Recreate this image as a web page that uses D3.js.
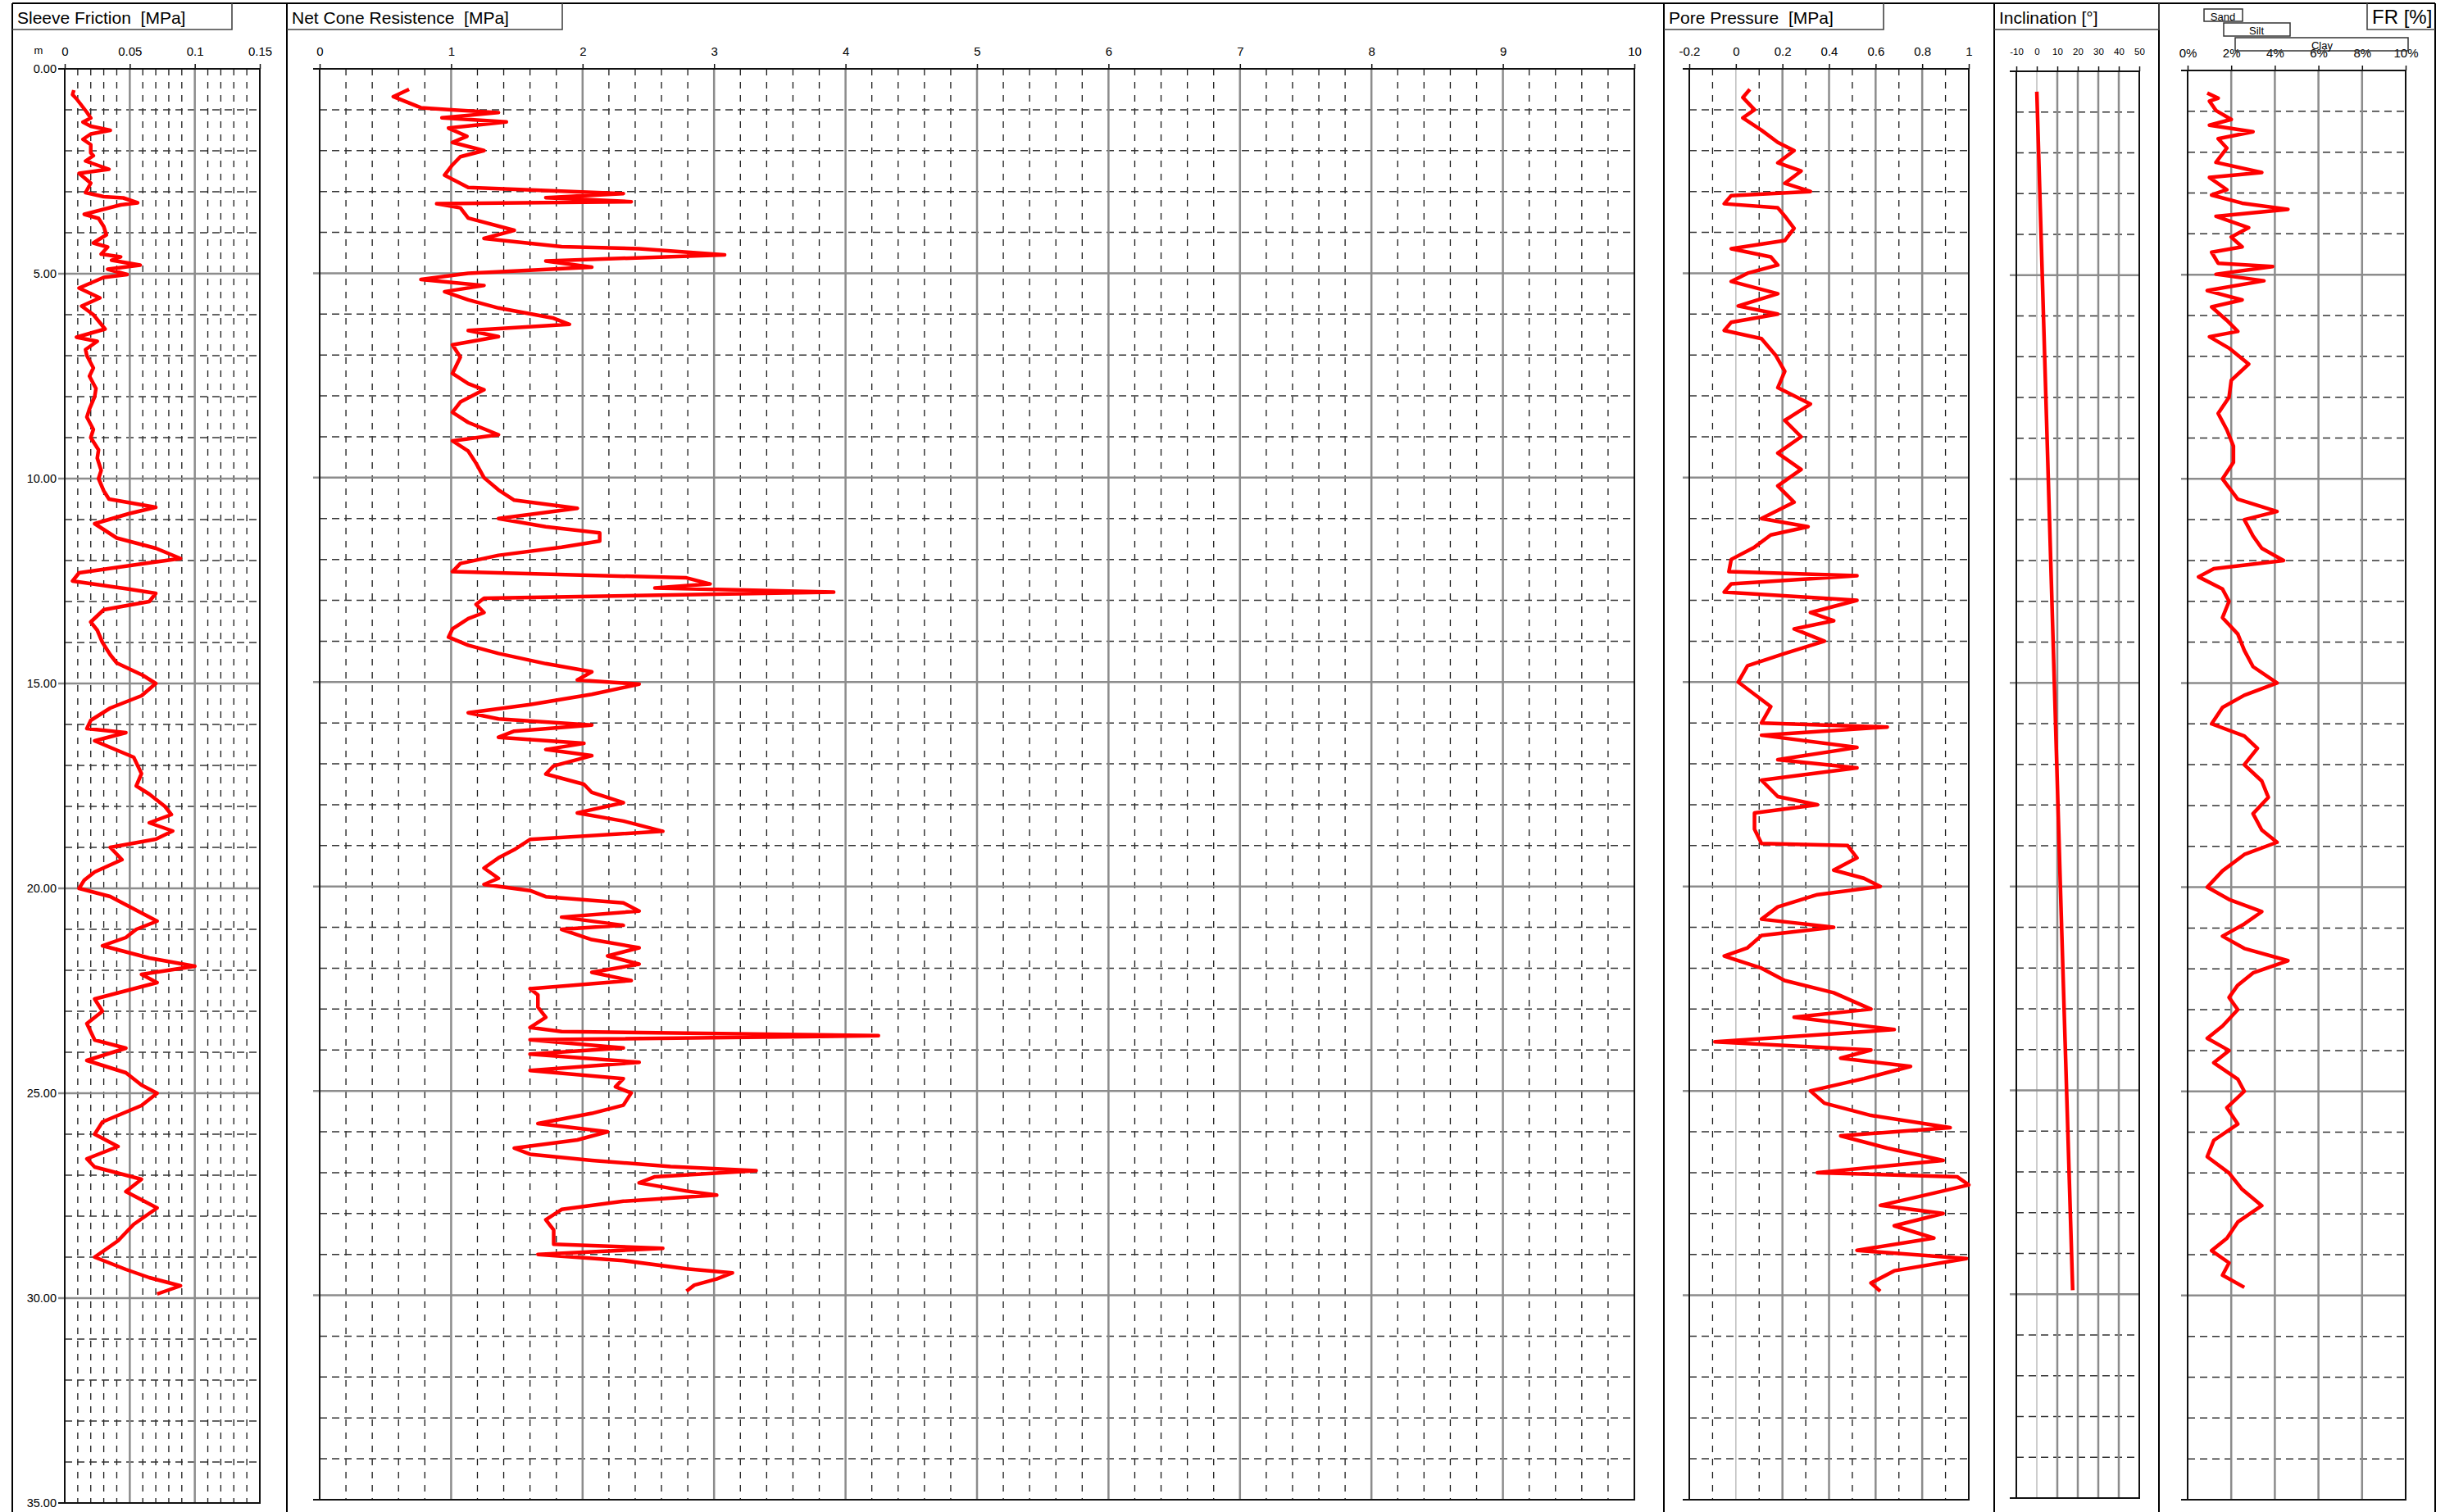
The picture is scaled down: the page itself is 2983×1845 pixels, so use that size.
<!DOCTYPE html>
<html>
<head>
<meta charset="utf-8">
<script src="https://cdn.jsdelivr.net/npm/d3@7/dist/d3.min.js"></script>
<style>
  body { margin: 0; background: #fff; }
  svg { display: block; font-family: "Liberation Sans", Arial, sans-serif; }
  text { white-space: pre; }
</style>
</head>
<body>
<svg id="chart" width="2983" height="1845"></svg>
<script>
// depth in m, value in panel units
const depthLabels = [0, 5, 10, 15, 20, 25, 30, 35];

const sleeveTicks = [0, 0.05, 0.1, 0.15];
const coneTicks = [0, 1, 2, 3, 4, 5, 6, 7, 8, 9, 10];
const poreTicks = [-0.2, 0, 0.2, 0.4, 0.6, 0.8, 1];
const inclTicks = [-10, 0, 10, 20, 30, 40, 50];
const frTicks = [0, 2, 4, 6, 8, 10];

const sleeveFriction = [
  [0.52,0.007],[0.63,0.006],[0.73,0.009],[1.06,0.017],[1.2,0.02],[1.3,0.014],[1.4,0.02],[1.5,0.035],[1.59,0.02],
  [1.72,0.014],[1.85,0.02],[2.05,0.02],[2.12,0.022],[2.25,0.016],[2.45,0.034],[2.55,0.011],[2.79,0.02],[3.02,0.016],
  [3.12,0.03],[3.15,0.045],[3.27,0.056],[3.32,0.043],[3.55,0.015],[3.65,0.026],[3.85,0.03],[4.05,0.032],[4.25,0.022],
  [4.35,0.033],[4.52,0.028],[4.59,0.043],[4.67,0.036],[4.79,0.058],[4.89,0.033],[5.02,0.048],[5.09,0.03],[5.35,0.011],
  [5.59,0.027],[5.79,0.013],[6.0,0.022],[6.35,0.031],[6.55,0.009],[6.65,0.025],[6.85,0.016],
  [7.0,0.017],[7.3,0.022],[7.5,0.019],[7.8,0.024],[8.0,0.023],[8.3,0.019],[8.5,0.017],[8.8,0.022],[9.0,0.02],[9.3,0.026],
  [9.5,0.025],[9.8,0.028],[10.0,0.026],[10.3,0.03],[10.5,0.034],[10.7,0.07],[10.85,0.05],[11.1,0.023],[11.45,0.04],
  [11.7,0.07],[11.95,0.089],[12.1,0.055],[12.3,0.011],[12.5,0.006],[12.7,0.05],[12.8,0.07],[13.0,0.065],[13.2,0.03],
  [13.5,0.02],[13.7,0.025],[14.0,0.029],[14.3,0.035],[14.5,0.04],[14.8,0.06],[15.0,0.07],[15.3,0.059],[15.6,0.035],
  [15.9,0.02],[16.1,0.017],[16.2,0.047],[16.4,0.023],[16.8,0.053],[17.2,0.059],[17.5,0.055],[17.7,0.065],[18.0,0.077],
  [18.2,0.082],[18.4,0.065],[18.6,0.083],[18.8,0.07],[19.0,0.035],[19.3,0.044],[19.6,0.023],[19.8,0.015],[20.0,0.011],
  [20.2,0.035],[20.5,0.053],[20.8,0.071],[21.0,0.055],[21.2,0.047],[21.4,0.029],[21.7,0.065],[21.9,0.1],[22.1,0.059],
  [22.3,0.071],[22.5,0.047],[22.7,0.023],[23.0,0.029],[23.3,0.017],[23.7,0.023],[23.9,0.047],[24.2,0.017],[24.5,0.047],
  [24.8,0.059],[25.0,0.071],[25.3,0.059],[25.7,0.029],[26.0,0.023],[26.3,0.041],[26.6,0.017],[26.8,0.023],[27.1,0.059],
  [27.4,0.047],[27.8,0.071],[28.2,0.053],[28.6,0.041],[29.0,0.023],[29.3,0.047],[29.5,0.065],[29.7,0.089],[29.9,0.071]
];

const netCone = [
  [0.5,0.68],[0.68,0.56],[0.95,0.77],[1.0,1.0],[1.07,1.36],[1.2,0.93],[1.3,1.42],[1.45,0.98],[1.65,1.12],[1.8,1.01],
  [2.0,1.25],[2.15,1.07],[2.35,1.01],[2.6,0.95],[2.9,1.13],[3.05,2.31],[3.15,1.72],[3.25,2.37],[3.3,0.89],[3.4,1.07],
  [3.65,1.13],[3.95,1.48],[4.15,1.25],[4.35,1.84],[4.4,2.43],[4.55,3.08],[4.7,1.72],[4.85,2.07],[5.0,1.13],[5.15,0.77],
  [5.3,1.25],[5.45,0.95],[5.65,1.13],[5.85,1.36],[6.1,1.78],[6.25,1.9],[6.4,1.13],[6.55,1.36],[6.75,1.01],[7.05,1.07],
  [7.45,1.01],[7.7,1.13],[7.85,1.25],[8.15,1.07],[8.4,1.01],[8.65,1.13],[8.95,1.36],[9.1,1.01],[9.35,1.13],[9.65,1.19],
  [10.0,1.25],[10.3,1.36],[10.55,1.48],[10.75,1.96],[11.0,1.36],[11.2,1.72],[11.35,2.13],[11.55,2.13],[11.7,1.84],
  [11.9,1.36],[12.1,1.07],[12.3,1.01],[12.45,2.79],[12.6,2.97],[12.7,2.55],[12.8,3.91],[12.95,1.25],[13.1,1.19],
  [13.3,1.25],[13.45,1.13],[13.7,1.01],[13.9,0.98],[14.1,1.13],[14.3,1.36],[14.55,1.72],[14.75,2.07],[14.95,1.96],
  [15.05,2.43],[15.3,2.07],[15.55,1.6],[15.75,1.13],[15.9,1.36],[16.05,2.07],[16.2,1.48],[16.35,1.36],[16.5,2.01],
  [16.65,1.72],[16.8,2.07],[17.05,1.78],[17.25,1.72],[17.5,2.01],[17.7,2.07],[17.95,2.31],[18.2,1.96],[18.4,2.31],
  [18.65,2.61],[18.85,1.6],[19.1,1.48],[19.3,1.36],[19.55,1.25],[19.8,1.36],[19.95,1.25],[20.1,1.6],[20.25,1.72],
  [20.4,2.31],[20.6,2.43],[20.75,1.84],[20.95,2.31],[21.05,1.84],[21.3,2.07],[21.5,2.43],[21.7,2.19],[21.9,2.43],
  [22.1,2.07],[22.3,2.37],[22.5,1.6],[22.65,1.66],[22.95,1.66],[23.2,1.72],[23.45,1.6],[23.55,1.84],[23.65,4.25],
  [23.75,1.6],[23.95,2.31],[24.1,1.6],[24.3,2.43],[24.5,1.6],[24.7,2.31],[24.9,2.25],[25.05,2.37],[25.35,2.31],
  [25.55,2.07],[25.8,1.66],[26.0,2.19],[26.2,1.96],[26.4,1.48],[26.55,1.6],[26.7,2.07],[26.85,2.67],[26.95,3.32],
  [27.1,2.55],[27.25,2.43],[27.45,2.79],[27.55,3.02],[27.7,2.31],[27.9,1.84],[28.15,1.72],[28.4,1.78],[28.65,1.78],
  [28.75,1.78],[28.85,2.61],[29.0,1.66],[29.15,2.31],[29.35,2.79],[29.45,3.14],[29.6,3.02],[29.75,2.85],[29.9,2.79]
];

const porePressure = [
  [0.5,0.06],[0.7,0.03],[1.0,0.08],[1.2,0.03],[1.5,0.11],[1.8,0.18],[2.0,0.25],[2.3,0.18],[2.5,0.28],[2.8,0.21],
  [3.0,0.32],[3.1,-0.02],[3.3,-0.05],[3.4,0.18],[3.6,0.21],[3.9,0.25],[4.2,0.21],[4.4,-0.02],[4.6,0.15],[4.8,0.18],
  [5.0,0.05],[5.2,-0.02],[5.5,0.18],[5.8,0.01],[6.0,0.18],[6.2,-0.02],[6.4,-0.05],[6.6,0.11],[7.0,0.17],[7.4,0.21],
  [7.8,0.18],[8.2,0.32],[8.6,0.21],[9.0,0.28],[9.4,0.18],[9.8,0.28],[10.2,0.18],[10.6,0.25],[11.0,0.11],[11.2,0.31],
  [11.4,0.15],[11.7,0.08],[12.0,-0.02],[12.3,-0.03],[12.4,0.52],[12.6,-0.02],[12.8,-0.05],[13.0,0.52],[13.3,0.32],
  [13.5,0.42],[13.7,0.25],[14.0,0.38],[14.3,0.21],[14.6,0.05],[15.0,0.01],[15.3,0.08],[15.6,0.15],[16.0,0.11],
  [16.1,0.65],[16.3,0.11],[16.6,0.52],[16.9,0.18],[17.1,0.52],[17.4,0.11],[17.8,0.18],[18.0,0.35],[18.2,0.08],
  [18.6,0.08],[18.95,0.11],[19.0,0.48],[19.3,0.52],[19.6,0.42],[19.8,0.55],[20.0,0.62],[20.2,0.35],[20.5,0.18],
  [20.8,0.11],[21.0,0.42],[21.2,0.11],[21.5,0.05],[21.7,-0.05],[22.0,0.11],[22.3,0.21],[22.6,0.42],[23.0,0.58],
  [23.2,0.25],[23.5,0.68],[23.8,-0.09],[24.0,0.58],[24.2,0.45],[24.4,0.75],[24.7,0.55],[25.0,0.32],[25.3,0.38],
  [25.6,0.58],[25.9,0.92],[26.1,0.45],[26.4,0.65],[26.7,0.89],[27.0,0.35],[27.1,0.95],[27.3,1.0],[27.5,0.85],
  [27.8,0.62],[28.0,0.89],[28.3,0.68],[28.6,0.85],[28.9,0.52],[29.1,0.99],[29.4,0.68],[29.7,0.58],[29.9,0.62]
];

const inclination = [[0.5,0],[10,5.6],[20,11.5],[29.9,17.5]];

const frictionRatio = [
  [0.55,0.9],[0.68,1.4],[0.75,1.0],[0.98,1.3],[1.2,2.0],[1.34,1.0],[1.5,3.0],[1.67,1.4],[1.9,1.8],[2.25,1.3],
  [2.5,3.4],[2.62,1.0],[2.92,1.8],[3.05,1.1],[3.25,2.5],[3.4,4.6],[3.57,1.3],[3.85,2.8],[4.08,2.0],[4.32,2.5],
  [4.45,1.1],[4.72,1.4],[4.8,3.9],[4.99,1.3],[5.15,3.5],[5.39,0.9],[5.62,2.5],[5.79,1.1],[6.12,1.8],[6.39,2.3],
  [6.52,1.0],[6.8,1.9],[7.19,2.8],[7.59,2.0],[8.0,1.9],[8.4,1.4],[8.8,1.8],[9.2,2.1],[9.6,2.1],[10.0,1.6],[10.5,2.3],
  [10.8,4.1],[11.0,2.6],[11.4,3.0],[11.7,3.4],[12.0,4.4],[12.2,1.2],[12.4,0.5],[12.7,1.6],[13.0,1.9],[13.4,1.6],
  [13.8,2.3],[14.2,2.6],[14.6,3.0],[15.0,4.1],[15.3,2.6],[15.6,1.6],[16.0,1.1],[16.3,2.6],[16.6,3.2],[17.0,2.6],
  [17.4,3.4],[17.8,3.7],[18.2,3.0],[18.6,3.4],[18.9,4.1],[19.2,2.6],[19.6,1.6],[20.0,0.9],[20.3,1.9],[20.6,3.4],
  [20.9,2.6],[21.2,1.6],[21.5,2.6],[21.8,4.6],[22.1,3.0],[22.4,2.3],[22.7,1.9],[23.0,2.3],[23.4,1.6],[23.7,0.9],
  [24.0,1.9],[24.3,1.2],[24.7,2.3],[25.0,2.6],[25.4,1.8],[25.8,2.3],[26.2,1.2],[26.6,0.9],[27.0,1.9],[27.4,2.5],
  [27.8,3.4],[28.2,2.3],[28.6,1.8],[28.9,1.1],[29.2,1.9],[29.5,1.6],[29.8,2.6]
];

const svg = d3.select('#chart');
const H = 1845;

// frame + panel separators
const frame = svg.append('g').attr('stroke', '#000').attr('stroke-width', 2);
frame.append('line').attr('x1', 15).attr('x2', 2971).attr('y1', 4).attr('y2', 4);
[15, 350, 2030, 2433, 2634, 2971].forEach(function(x) {
  frame.append('line').attr('x1', x).attr('x2', x).attr('y1', 4).attr('y2', H);
});

// title boxes
function titleBox(x0, x1, label, right) {
  var g = svg.append('g');
  g.append('path')
    .attr('d', right ? 'M' + x0 + ',4V36H' + x1 : 'M' + x0 + ',36H' + x1 + 'V4')
    .attr('fill', 'none').attr('stroke', '#444').attr('stroke-width', 1.6);
  g.append('text').attr('x', right ? x0 + 6 : x0 + 6).attr('y', 29)
    .attr('font-size', right ? 24 : 21).text(label);
}
titleBox(15, 283, 'Sleeve Friction  [MPa]');
titleBox(350, 686, 'Net Cone Resistence  [MPa]');
titleBox(2030, 2298, 'Pore Pressure  [MPa]');
titleBox(2433, 2634, 'Inclination [°]');
titleBox(2888, 2971, 'FR [%]', true);

function range(a, b, step) {
  var out = [];
  for (var i = Math.round(a / step); i * step <= b + 1e-9; i++) out.push(+(i * step).toFixed(6));
  return out;
}

function drawPanel(p) {
  var x = d3.scaleLinear().domain(p.domain).range([p.left, p.right]);
  var y = d3.scaleLinear().domain([0, 35]).range([p.top, p.bottom]);
  var g = svg.append('g');
  var isMajor = function(v) { return p.ticks.some(function(t) { return Math.abs(t - v) < 1e-6; }); };

  // minor vertical dashes
  if (p.minorStep) {
    range(p.domain[0], p.domain[1], p.minorStep).filter(function(v) { return !isMajor(v); }).forEach(function(v) {
      g.append('line').attr('x1', x(v)).attr('x2', x(v)).attr('y1', p.top).attr('y2', p.bottom)
        .attr('stroke', '#1a1a1a').attr('stroke-width', 1.3).attr('stroke-dasharray', '8,8');
    });
  }
  // horizontal 1 m dashes
  d3.range(1, 35).filter(function(d) { return d % 5; }).forEach(function(d) {
    g.append('line').attr('x1', p.left).attr('x2', p.right).attr('y1', y(d)).attr('y2', y(d))
      .attr('stroke', '#333').attr('stroke-width', 1.5).attr('stroke-dasharray', '9,6');
  });
  // major verticals
  p.ticks.slice(1, -1).forEach(function(v) {
    var zero = v === 0 && p.lightZero;
    g.append('line').attr('x1', x(v)).attr('x2', x(v)).attr('y1', p.top).attr('y2', p.bottom)
      .attr('stroke', zero ? '#bdbdbd' : '#8c8c8c').attr('stroke-width', zero ? 1.5 : 2.5);
  });
  // 5 m lines
  [5, 10, 15, 20, 25, 30].forEach(function(d) {
    g.append('line').attr('x1', p.left - 8).attr('x2', p.right).attr('y1', y(d)).attr('y2', y(d))
      .attr('stroke', '#8c8c8c').attr('stroke-width', 2.5);
  });
  // border
  g.append('rect').attr('x', p.left).attr('y', p.top).attr('width', p.right - p.left).attr('height', p.bottom - p.top)
    .attr('fill', 'none').attr('stroke', '#111').attr('stroke-width', 2);
  g.append('line').attr('x1', p.left - 8).attr('x2', p.left).attr('y1', p.top).attr('y2', p.top).attr('stroke', '#111').attr('stroke-width', 2);
  g.append('line').attr('x1', p.left - 8).attr('x2', p.left).attr('y1', p.bottom).attr('y2', p.bottom).attr('stroke', '#111').attr('stroke-width', 2);

  // top axis
  var axis = d3.axisTop(x).tickValues(p.ticks).tickSize(6).tickPadding(p.pad || 10).tickFormat(p.format);
  var ax = g.append('g').attr('transform', 'translate(0,' + p.top + ')').call(axis);
  ax.select('.domain').remove();
  ax.selectAll('line').attr('stroke', '#111').attr('stroke-width', 1.5);
  ax.selectAll('text').attr('font-size', p.fontSize || 15).attr('fill', '#000')
    .attr('font-family', '"Liberation Sans", Arial, sans-serif');

  // curve
  var line = d3.line().x(function(d) { return x(d[1]); }).y(function(d) { return y(d[0]); });
  g.append('path').datum(p.data).attr('d', line).attr('fill', 'none')
    .attr('stroke', '#ff0000').attr('stroke-width', 4.5).attr('stroke-linejoin', 'round');
  return y;
}

const ySleeve = drawPanel({ left: 79, right: 317, top: 84, bottom: 1834, domain: [0, 0.15], ticks: sleeveTicks,
  minorStep: 0.01, data: sleeveFriction, format: function(d) { return String(d); } });
drawPanel({ left: 390, right: 1994, top: 84, bottom: 1830, domain: [0, 10], ticks: coneTicks,
  minorStep: 0.2, data: netCone, format: function(d) { return String(d); } });
drawPanel({ left: 2061, right: 2402, top: 84, bottom: 1830, domain: [-0.2, 1], ticks: poreTicks,
  minorStep: 0.1, lightZero: true, data: porePressure, format: function(d) { return String(d); } });
drawPanel({ left: 2460, right: 2610, top: 87, bottom: 1828, domain: [-10, 50], ticks: inclTicks,
  lightZero: true, data: inclination, fontSize: 11.5, pad: 14, format: function(d) { return String(d); } });
drawPanel({ left: 2669, right: 2935, top: 86, bottom: 1830, domain: [0, 10], ticks: frTicks,
  data: frictionRatio, format: function(d) { return d + '%'; } });

// depth labels
svg.append('text').attr('x', 47).attr('y', 66).attr('font-size', 13).attr('text-anchor', 'middle').text('m');
svg.append('g').selectAll('text').data(depthLabels).join('text')
  .attr('x', 69).attr('y', function(d) { return ySleeve(d) + 5; })
  .attr('text-anchor', 'end').attr('font-size', 14.5)
  .text(function(d) { return d3.format('.2f')(d); });

// soil type legend above FR
const legend = svg.append('g').attr('fill', 'none').attr('stroke', '#333').attr('stroke-width', 1.5);
legend.append('rect').attr('x', 2689).attr('y', 11).attr('width', 47).attr('height', 15);
legend.append('rect').attr('x', 2713).attr('y', 28).attr('width', 81).attr('height', 16);
legend.append('rect').attr('x', 2727).attr('y', 46).attr('width', 211).attr('height', 16);
const legendText = svg.append('g').attr('font-size', 13).attr('text-anchor', 'middle');
legendText.append('text').attr('x', 2712).attr('y', 25).text('Sand');
legendText.append('text').attr('x', 2753).attr('y', 42).text('Silt');
legendText.append('text').attr('x', 2833).attr('y', 60).text('Clay');
</script>
</body>
</html>
